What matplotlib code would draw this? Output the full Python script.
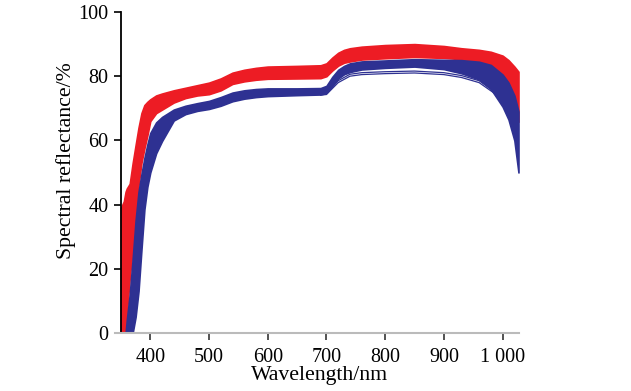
import numpy as np
import matplotlib
matplotlib.use("Agg")
import matplotlib.pyplot as plt

plt.rcParams['font.family'] = ['Liberation Serif', 'DejaVu Serif']

# 波長 (nm)
wl = [350, 355, 358, 360, 365, 370, 375, 380, 385, 390, 395, 400, 410, 420, 440, 460, 480, 500,
      520, 540, 560, 580, 600, 650, 690, 700, 710, 720, 730, 740, 760, 800, 850, 900, 930, 960,
      980, 1000, 1010, 1020, 1027]

# 赤の束 (上端/下端)
red_hi = [39, 41, 44, 45, 46.5, 52.9, 58.5, 64, 68.5, 71, 72, 72.8, 74, 74.6, 75.6, 76.4, 77.2, 78,
          79.3, 81.1, 82, 82.6, 83, 83.2, 83.4, 84, 85.8, 87.3, 88.2, 88.7, 89.2, 89.7, 90.0, 89.4, 88.7, 88.2,
          87.6, 86.4, 85.0, 83.0, 81.4]
red_lo = [0, 0, 0, 6, 17, 26, 35, 46, 53, 57.5, 61.5, 66, 68.5, 69.6, 71.8, 73.2, 74, 74.4,
          75.6, 77.6, 78.4, 78.9, 79.2, 79.3, 79.4, 80, 81.8, 83.3, 84.2, 84.6, 85.2, 85.6, 86, 85.7, 85.3, 83.5,
          81.8, 79.6, 77.8, 72, 65.8]

# 青の束 (上端/下端)
blue_hi = [np.nan, np.nan, 0, 4, 12, 23, 35, 44, 49.5, 54.5, 58.7, 62.3, 65.6, 67.3, 69.6, 70.8, 71.6, 72.3,
           73.5, 74.9, 75.6, 76, 76.2, 76.2, 76.3, 77, 79.8, 82, 83.2, 84, 84.6, 84.9, 85.3, 85.1, 85, 84.5,
           83.5, 80.5, 78, 74, 69]
blue_lo = [np.nan, np.nan, 0, 0, 0, 0, 5, 13, 26, 38.5, 45.5, 50, 56, 59.8, 66.2, 68.2, 69.2, 69.8,
           70.8, 72.2, 73, 73.5, 73.8, 74.1, 74.3, 74.8, 77, 79.3, 80.6, 81.3, 82.1, 82.6, 83, 82.2, 80.9, 79,
           76, 70.5, 66.5, 60, 50]

# 青の外れ線
wl_out = [690, 700, 720, 740, 760, 800, 850, 900, 930, 960, 985, 1000]
blue_out1 = [74.3, 74.6, 78.6, 80.6, 81.1, 81.4, 81.6, 81.1, 80.2, 78.6, 75.3, 72]
blue_out2 = [74.1, 74.3, 78.0, 80.0, 80.5, 80.8, 81.0, 80.5, 79.6, 78.0, 74.8, 71.5]

red = '#ED1C24'
blue = '#2E3192'

fig = plt.figure(figsize=(6.31, 3.91), dpi=100)
ax = fig.add_axes([0.1823, 0.1483, 0.6403, 0.821])

ax.fill_between(wl, red_lo, red_hi, color=red, lw=1.2, ec=red)
ax.fill_between(wl, blue_lo, blue_hi, color=blue, lw=1.2, ec=blue)
ax.plot(wl_out, blue_out1, color=blue, lw=0.9)
ax.plot(wl_out, blue_out2, color=blue, lw=0.9)

ax.set_xlim(340, 1028)
ax.set_ylim(0, 100)
ax.spines['top'].set_visible(False)
ax.spines['right'].set_visible(False)
ax.spines['left'].set_position(('data', 350))
ax.spines['left'].set_linewidth(1.3)
ax.spines['bottom'].set_color('#bbbbbb')
ax.spines['bottom'].set_linewidth(1.5)

ax.set_xticks([400, 500, 600, 700, 800, 900, 1000])
ax.set_xticklabels(['400', '500', '600', '700', '800', '900', '1 000'])
ax.set_yticks([0, 20, 40, 60, 80, 100])
ax.tick_params(axis='x', length=5, width=1.2, color='#333333', pad=6, labelsize=14.5)
ax.tick_params(axis='y', length=5, width=1.2, pad=4, labelsize=14.5)

ax.set_xlabel("Wavelength/nm", fontsize=15.7)
ax.set_ylabel("Spectral reflectance/%", fontsize=15.7)
ax.xaxis.set_label_coords(0.507, -0.102)
ax.yaxis.set_label_coords(-0.097, 0.536)

fig.savefig("out.png", dpi=100)
